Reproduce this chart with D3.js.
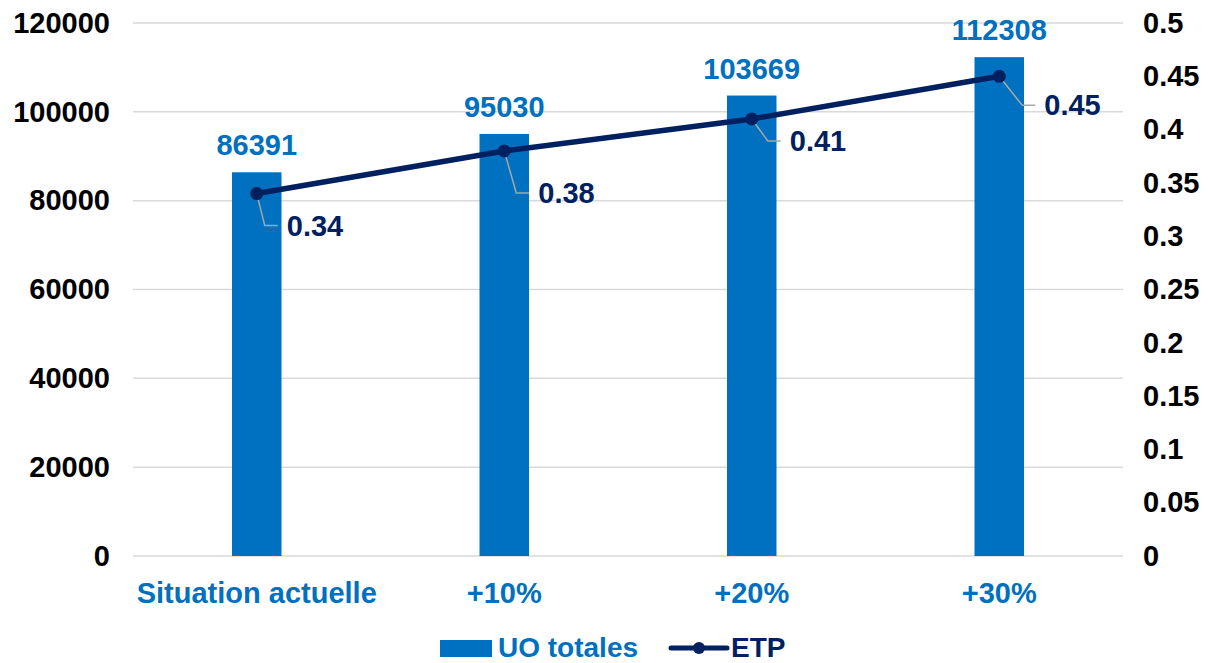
<!DOCTYPE html>
<html><head><meta charset="utf-8">
<script src="https://cdn.jsdelivr.net/npm/d3@7"></script>
<style>body{margin:0;background:#fff}svg{display:block}text{font-family:"Liberation Sans",Arial,sans-serif;font-weight:bold}</style>
</head><body><svg id="c" width="1208" height="663"></svg>
<script>
const categories = ["Situation actuelle", "+10%", "+20%", "+30%"];
const uoTotales = [86391, 95030, 103669, 112308];
const etp = [0.34, 0.38, 0.41, 0.45];
const leftTicks = [0, 20000, 40000, 60000, 80000, 100000, 120000];
const rightTicks = [0, 0.05, 0.1, 0.15, 0.2, 0.25, 0.3, 0.35, 0.4, 0.45, 0.5];
const rightTickLabels = ["0", "0.05", "0.1", "0.15", "0.2", "0.25", "0.3", "0.35", "0.4", "0.45", "0.5"];
// label placement offsets (dx to label left, dy to label centre) for ETP data labels
const etpLabelOffsets = [[30, 32], [34, 42], [38, 22], [45, 29]];

const BLUE = "#0070C0", NAVY = "#002060", GRID = "#d9d9d9";
const svg = d3.select("#c");
const L = 133, R = 1123, T = 23, B = 556;
const x = d3.scaleBand().domain(categories).range([L, R]);
const yL = d3.scaleLinear().domain([0, 120000]).range([B, T]);
const yR = d3.scaleLinear().domain([0, 0.5]).range([B, T]);
const FS = 29;

// gridlines
svg.append("g").selectAll("line").data(leftTicks).join("line")
  .attr("x1", L).attr("x2", R).attr("y1", d => yL(d)).attr("y2", d => yL(d))
  .attr("stroke", GRID).attr("stroke-width", 1.5);

// left axis
const axL = svg.append("g").attr("transform", `translate(${L},0)`)
  .call(d3.axisLeft(yL).tickValues(leftTicks).tickFormat(d3.format("d")).tickSize(0).tickPadding(23));
axL.select(".domain").remove();
axL.selectAll("text").attr("font-size", FS).attr("fill", "#000").attr("font-family", null);

// right axis
const axR = svg.append("g").attr("transform", `translate(${R},0)`)
  .call(d3.axisRight(yR).tickValues(rightTicks).tickFormat((d, i) => rightTickLabels[i]).tickSize(0).tickPadding(20));
axR.select(".domain").remove();
axR.selectAll("text").attr("font-size", FS).attr("fill", "#000").attr("font-family", null);

// x axis labels
const axX = svg.append("g").attr("transform", `translate(0,${B})`)
  .call(d3.axisBottom(x).tickSize(0).tickPadding(26));
axX.select(".domain").remove();
axX.selectAll("text").attr("font-size", FS).attr("fill", BLUE).attr("font-family", null);

// bars
const bw = x.bandwidth() * 0.2;
const cx = d => x(d) + x.bandwidth() / 2;
svg.append("g").selectAll("rect").data(categories).join("rect")
  .attr("x", d => cx(d) - bw / 2).attr("width", bw)
  .attr("y", (d, i) => yL(uoTotales[i])).attr("height", (d, i) => B - yL(uoTotales[i]))
  .attr("fill", BLUE);

// bar labels
svg.append("g").selectAll("text").data(categories).join("text")
  .attr("x", d => cx(d)).attr("y", (d, i) => yL(uoTotales[i]) - 17)
  .attr("text-anchor", "middle").attr("font-size", FS).attr("fill", BLUE)
  .text((d, i) => uoTotales[i]);

// line
const pts = categories.map((c, i) => [cx(c), yR(etp[i])]);
// leader lines
svg.append("g").selectAll("path").data(pts).join("path")
  .attr("d", (p, i) => {
    const lx = p[0] + etpLabelOffsets[i][0], ly = p[1] + etpLabelOffsets[i][1];
    return `M${p[0]},${p[1]}L${lx - 22},${ly}L${lx - 9},${ly}`;
  })
  .attr("fill", "none").attr("stroke", "#a6a6a6").attr("stroke-width", 1.5);

svg.append("path").datum(pts).attr("d", d3.line())
  .attr("fill", "none").attr("stroke", NAVY).attr("stroke-width", 5.5);
svg.append("g").selectAll("circle").data(pts).join("circle")
  .attr("cx", p => p[0]).attr("cy", p => p[1]).attr("r", 6.5).attr("fill", NAVY);

svg.append("g").selectAll("text").data(pts).join("text")
  .attr("x", (p, i) => p[0] + etpLabelOffsets[i][0]).attr("y", (p, i) => p[1] + etpLabelOffsets[i][1])
  .attr("dy", "0.35em").attr("font-size", FS).attr("fill", NAVY)
  .text((p, i) => etp[i]);

// legend
const lg = svg.append("g");
lg.append("rect").attr("x", 440).attr("y", 640).attr("width", 52).attr("height", 17).attr("fill", BLUE);
lg.append("text").attr("x", 498).attr("y", 657).attr("font-size", 28).attr("fill", BLUE).text("UO totales");
lg.append("line").attr("x1", 671).attr("x2", 727).attr("y1", 648).attr("y2", 648).attr("stroke", NAVY).attr("stroke-width", 5).attr("stroke-linecap", "round");
lg.append("circle").attr("cx", 699).attr("cy", 648).attr("r", 6).attr("fill", NAVY);
lg.append("text").attr("x", 731).attr("y", 657).attr("font-size", 28).attr("fill", NAVY).text("ETP");
</script></body></html>
